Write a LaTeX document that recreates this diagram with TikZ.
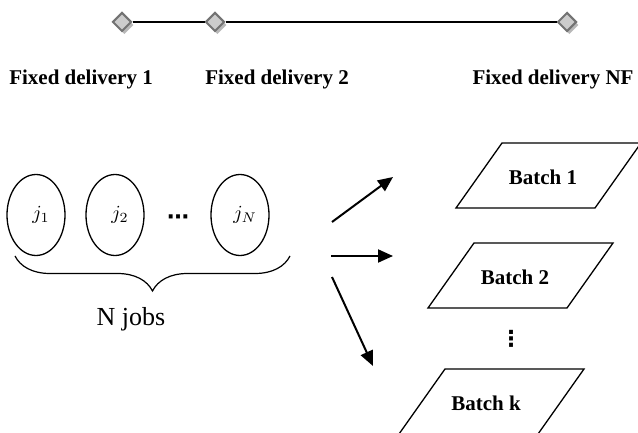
\documentclass[tikz,border=0pt]{standalone}
\usepackage{fontspec}
\setmainfont{Liberation Serif}
\newfontfamily\dotsfont{DejaVu Sans}
\usepackage{tikz}
\usetikzlibrary{positioning, arrows.meta, shapes.geometric, shadows,
                decorations.pathreplacing}

\begin{document}
\begin{tikzpicture}[
  x=0.5pt, y=-0.5pt,
  due/.style={diamond, draw=black!55, line width=1pt, fill=gray!40,
              minimum size=9.5pt, inner sep=0pt,
              drop shadow={shadow xshift=1.2pt, shadow yshift=-1.5pt,
                           fill=black!28, opacity=1}},
  fixed/.style={font=\fontsize{10.5}{12}\selectfont\bfseries, inner sep=0pt},
  job/.style={ellipse, draw, line width=0.65pt, minimum width=29pt,
              minimum height=40.5pt, inner sep=0pt, font=\normalsize},
  batchlab/.style={font=\fontsize{10.5}{12}\selectfont\bfseries, inner sep=0pt},
  batchbox/.style={draw, line width=0.65pt},
  assign/.style={-{Triangle[length=7.5pt, width=6.5pt]}, line width=1pt},
  dotty/.style={font=\dotsfont\bfseries\fontsize{11}{12}\selectfont, inner sep=0pt},
]
  % Sheet size, in pixel units (1 unit = 0.5pt, y downwards)
  \useasboundingbox (0,0) rectangle (638,433);

  % Delivery line with the fixed dates
  \foreach \n/\x in {1/122, 2/215, NF/567}
    \node[due] (d\n) at (\x,22) {};
  \draw[line width=0.8pt] (d1) -- (d2) -- (dNF);

  \foreach \n/\x in {1/81, 2/277, NF/553}
    \node[fixed] (fd\n) at (\x,79) {Fixed delivery \n};

  % Jobs j_1 ... j_N
  \foreach \n/\x in {1/36, 2/115, N/240}
    \node[job] (j\n) at (\x,215) {\raisebox{-2pt}{\hspace{5pt}$j_{\n}$}};
  \node[dotty] (jdots) at (178,220) {⋯};

  % Brace under the jobs
  \coordinate (bl) at (15,256);
  \coordinate (br) at (290,256);
  \draw[decorate, decoration={brace, mirror, amplitude=17.5pt}, line width=0.6pt]
    (bl) -- (br);
  \node[font=\fontsize{13}{15}\selectfont] (njobs) at (131,319) {N jobs};

  % Batches (label first, then the slanted box round it)
  \foreach \n/\x/\y in {1/543/177, 2/515/277, k/486/403} {
    \node[batchlab] (b\n) at (\x,\y) {Batch \n};
    \draw[batchbox] ([shift={(-41,-34)}]b\n.center) -- ++(139,0) -- ++(-46,65)
      -- ++(-139,0) -- cycle;
  }
  \node[dotty] (bdots) at (511,339) {⋮};

  % Assignment arrows
  \coordinate (s1) at (332,222);  \coordinate (e1) at (393,177);
  \coordinate (s2) at (331,256);  \coordinate (e2) at (393,256);
  \coordinate (s3) at (332,277);  \coordinate (e3) at (373,366);
  \foreach \i in {1,2,3}
    \draw[assign] (s\i) -- (e\i);
\end{tikzpicture}
\end{document}
